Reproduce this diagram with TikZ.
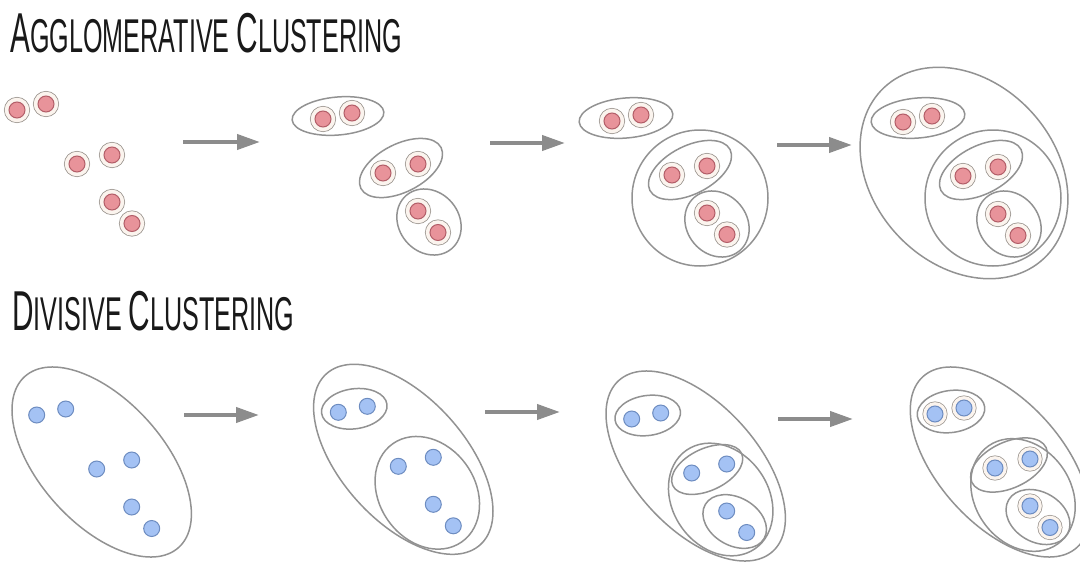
\documentclass[tikz,border=0pt]{standalone}
\usepackage{fontspec}
\usepackage{tikz}
\usetikzlibrary{arrows.meta}
\newfontfamily\titlefont[FakeStretch=0.53]{Liberation Sans}
\newcommand{\titlebig}[1]{{\fontsize{32}{32}\selectfont #1}}
\newcommand{\titlesmall}[1]{{\fontsize{27}{27}\selectfont #1}}
\definecolor{dotpink}{HTML}{E8939A}
\definecolor{dotred}{HTML}{B25E68}
\definecolor{dotblue}{HTML}{A4C2F4}
\definecolor{dotnavy}{HTML}{6D8CC0}
\definecolor{ringgray}{HTML}{9C9690}
\definecolor{ringcream}{HTML}{FBF4EE}
\definecolor{clustgray}{HTML}{929292}
\definecolor{arrowgray}{HTML}{8C8C8C}
\tikzstyle{title} = [
anchor=base west,
inner sep=0pt,
font=\titlefont\fontsize{27}{27}\selectfont,
text=black!90
]
\tikzstyle{reddot} = [
circle,
minimum size=0.32cm,
inner sep=0pt,
draw=dotred,
fill=dotpink,
line width=0.02cm,
preaction={draw=ringgray,line width=0.2cm},
preaction={draw=ringcream,line width=0.168cm}
]
\tikzstyle{bluedot} = [
circle,
minimum size=0.32cm,
inner sep=0pt,
draw=dotnavy,
fill=dotblue,
line width=0.02cm
]
\tikzstyle{bluering} = [
bluedot,
preaction={draw=ringgray,line width=0.18cm},
preaction={draw=ringcream,line width=0.15cm}
]
\tikzstyle{clust} = [
draw=clustgray,
line width=0.03cm
]
\tikzstyle{steparrow} = [
draw=arrowgray,
line width=0.08cm,
-{Triangle[length=0.46cm,width=0.3cm]}
]

\begin{document}
\begin{tikzpicture}[x=0.02cm,y=-0.02cm]
\useasboundingbox (0,0) rectangle (1080,565);
%Titles
\node[title] (agtitle) at (10,52) {\titlebig{A}\titlesmall{GGLOMERATIVE} \titlebig{C}\titlesmall{LUSTERING}};
\node[title] (dvtitle) at (12,330) {\titlebig{D}\titlesmall{IVISIVE} \titlebig{C}\titlesmall{LUSTERING}};
%Agglomerative, step 1
\begin{scope}[shift={(17,110)}]
\node[reddot] (ag11) at (0,0) {};
\node[reddot] (ag12) at (29,-6) {};
\node[reddot] (ag13) at (60,54) {};
\node[reddot] (ag14) at (95,45) {};
\node[reddot] (ag15) at (95,92) {};
\node[reddot] (ag16) at (115,113.5) {};
\end{scope}
%Agglomerative, step 2
\begin{scope}[shift={(323,119)}]
\node[reddot] (ag21) at (0,0) {};
\node[reddot] (ag22) at (29,-6) {};
\node[reddot] (ag23) at (60,54) {};
\node[reddot] (ag24) at (95,45) {};
\node[reddot] (ag25) at (95,92) {};
\node[reddot] (ag26) at (115,113.5) {};
\draw[clust,rotate around={5:(15,-3)}] (15,-3) ellipse (46 and 19);
\draw[clust,rotate around={27:(78,49)}] (78,49) ellipse (45 and 24);
\draw[clust,rotate around={-50:(106,103)}] (106,103) ellipse (35 and 30);
\end{scope}
%Agglomerative, step 3
\begin{scope}[shift={(612,121)}]
\node[reddot] (ag31) at (0,0) {};
\node[reddot] (ag32) at (29,-6) {};
\node[reddot] (ag33) at (60,54) {};
\node[reddot] (ag34) at (95,45) {};
\node[reddot] (ag35) at (95,92) {};
\node[reddot] (ag36) at (115,113.5) {};
\draw[clust,rotate around={5:(14,-3)}] (14,-3) ellipse (47 and 20);
\draw[clust,rotate around={27:(78,49)}] (78,49) ellipse (45 and 24);
\draw[clust,rotate around={-50:(105,103)}] (105,103) ellipse (35 and 30);
\draw[clust] (88,77) circle (68);
\end{scope}
%Agglomerative, step 4
\begin{scope}[shift={(903,122)}]
\node[reddot] (ag41) at (0,0) {};
\node[reddot] (ag42) at (29,-6) {};
\node[reddot] (ag43) at (60,54) {};
\node[reddot] (ag44) at (95,45) {};
\node[reddot] (ag45) at (95,92) {};
\node[reddot] (ag46) at (115,113.5) {};
\draw[clust,rotate around={5:(15,-4)}] (15,-4) ellipse (47 and 20);
\draw[clust,rotate around={27:(78,48)}] (78,48) ellipse (45 and 24);
\draw[clust,rotate around={-50:(106,102)}] (106,102) ellipse (35 and 30);
\draw[clust] (90,76) circle (68);
\draw[clust,rotate around={-47:(61,51)}] (61,51) ellipse (117 and 91);
\end{scope}
%Divisive, step 1
\begin{scope}[shift={(36.7,415)}]
\node[bluedot] (dv11) at (0,0) {};
\node[bluedot] (dv12) at (29,-6) {};
\node[bluedot] (dv13) at (60,54) {};
\node[bluedot] (dv14) at (95,45) {};
\node[bluedot] (dv15) at (95,92) {};
\node[bluedot] (dv16) at (115,113.5) {};
\draw[clust,rotate around={-48:(65,47)}] (65,47) ellipse (115 and 62);
\end{scope}
%Divisive, step 2
\begin{scope}[shift={(338.3,412.3)}]
\node[bluedot] (dv21) at (0,0) {};
\node[bluedot] (dv22) at (29,-6) {};
\node[bluedot] (dv23) at (60,54) {};
\node[bluedot] (dv24) at (95,45) {};
\node[bluedot] (dv25) at (95,92) {};
\node[bluedot] (dv26) at (115,113.5) {};
\draw[clust,rotate around={-48:(65,47)}] (65,47) ellipse (115 and 62);
\draw[clust,rotate around={8:(16,-3.5)}] (16,-3.5) ellipse (33 and 20);
\draw[clust,rotate around={-55:(89,80.5)}] (89,80.5) ellipse (60 and 48);
\end{scope}
%Divisive, step 3
\begin{scope}[shift={(631.7,419)}]
\node[bluedot] (dv31) at (0,0) {};
\node[bluedot] (dv32) at (29,-6) {};
\node[bluedot] (dv33) at (60,54) {};
\node[bluedot] (dv34) at (95,45) {};
\node[bluedot] (dv35) at (95,92) {};
\node[bluedot] (dv36) at (115,113.5) {};
\draw[clust,rotate around={-48:(64,47)}] (64,47) ellipse (115 and 62);
\draw[clust,rotate around={8:(16,-3.5)}] (16,-3.5) ellipse (33 and 20);
\draw[clust,rotate around={-55:(89,80.5)}] (89,80.5) ellipse (60 and 48);
\draw[clust,rotate around={25:(75.5,50.5)}] (75.5,50.5) ellipse (38 and 21);
\draw[clust,rotate around={-30:(103,102.5)}] (103,102.5) ellipse (34 and 24);
\end{scope}
%Divisive, step 4
\begin{scope}[shift={(935,414)}]
\node[bluering] (dv41) at (0,0) {};
\node[bluering] (dv42) at (29,-6) {};
\node[bluering] (dv43) at (60,54) {};
\node[bluering] (dv44) at (95,45) {};
\node[bluering] (dv45) at (95,92) {};
\node[bluering] (dv46) at (115,113.5) {};
\draw[clust,rotate around={-48:(65,48)}] (65,48) ellipse (115 and 62);
\draw[clust,rotate around={8:(16,-2.5)}] (16,-2.5) ellipse (34 and 21);
\draw[clust,rotate around={-55:(88,81)}] (88,81) ellipse (60 and 48);
\draw[clust,rotate around={25:(74,51)}] (74,51) ellipse (41 and 23);
\draw[clust,rotate around={-30:(103,103)}] (103,103) ellipse (34 and 25);
\end{scope}
%Arrows
\coordinate (ag1out) at (183,142);
\coordinate (ag2in) at (260,142);
\coordinate (ag2out) at (490,143);
\coordinate (ag3in) at (565,143);
\coordinate (ag3out) at (777,145);
\coordinate (ag4in) at (852,145);
\coordinate (dv1out) at (184,415);
\coordinate (dv2in) at (259,415);
\coordinate (dv2out) at (485,412);
\coordinate (dv3in) at (560,412);
\coordinate (dv3out) at (778,419);
\coordinate (dv4in) at (853,419);
\draw[steparrow] (ag1out) -- (ag2in);
\draw[steparrow] (ag2out) -- (ag3in);
\draw[steparrow] (ag3out) -- (ag4in);
\draw[steparrow] (dv1out) -- (dv2in);
\draw[steparrow] (dv2out) -- (dv3in);
\draw[steparrow] (dv3out) -- (dv4in);
\end{tikzpicture}
\end{document}
